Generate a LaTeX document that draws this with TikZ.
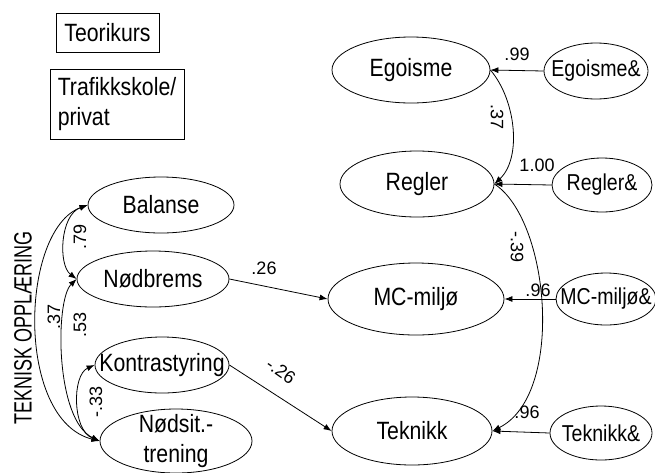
\documentclass[tikz,border=0pt]{standalone}
\usepackage{fontspec}
\setmainfont{Liberation Sans}[FakeStretch=0.85]
\newfontfamily\narrowfont{Liberation Sans}[FakeStretch=0.72]
\newfontfamily\coeffont{Liberation Sans}
\usetikzlibrary{shapes.geometric,arrows.meta}

\begin{document}
\begin{tikzpicture}[x=1pt,y=-1pt,line width=0.8pt,
  font=\fontsize{25}{30}\selectfont,
  latent/.style={ellipse,draw,inner sep=0pt,label={[align=center]center:{#1}}},
  resid/.style={ellipse,draw,inner sep=0pt,label={[font=\fontsize{23}{26}\selectfont]center:{#1}}},
  box/.style={draw,inner sep=0pt,align=left},
  coef/.style={font=\coeffont\fontsize{18}{20}\selectfont,inner sep=0pt},
  path/.style={-{Latex[length=8pt,width=6pt]}},
  corr/.style={{Latex[length=8pt,width=6pt]}-{Latex[length=8pt,width=6pt]}}]
\useasboundingbox (0,0) rectangle (655,472);

% course boxes
\node[box,minimum width=103,minimum height=39] (teori) at (107.5,32.5) {Teorikurs};
\node[box,minimum width=134,minimum height=70] (trafikk) at (117,104) {Trafikkskole/\\privat};

% technical training
\node[latent=Balanse,minimum width=146,minimum height=56] (balanse) at (161,205) {};
\node[latent=Nødbrems,minimum width=152,minimum height=56] (nodbrems) at (153,279) {};
\node[latent=Kontrastyring,minimum width=134,minimum height=56] (kontrast) at (162,365) {};
\node[latent={Nødsit.-\\trening},minimum width=152,minimum height=64] (nodsit) at (176,441) {};
\node[rotate=90,font=\narrowfont\fontsize{25}{30}\selectfont] (teknisk) at (23,328) {TEKNISK OPPLÆRING};

% outcomes
\node[latent=Egoisme,minimum width=158,minimum height=66] (egoisme) at (411,70) {};
\node[latent=Regler,minimum width=154,minimum height=66] (regler) at (417,184) {};
\node[latent=MC-miljø,minimum width=176,minimum height=72] (mcmiljo) at (416,299) {};
\node[latent=Teknikk,minimum width=160,minimum height=68] (teknikk) at (412,431) {};

% error terms
\node[resid=Egoisme\&,minimum width=104,minimum height=56] (egoismeE) at (596,71) {};
\node[resid=Regler\&,minimum width=100,minimum height=54] (reglerE) at (602,185) {};
\node[resid=MC-miljø\&,minimum width=100,minimum height=52] (mcmiljoE) at (606,299) {};
\node[resid=Teknikk\&,minimum width=102,minimum height=54] (teknikkE) at (601,433) {};

\draw[path] (egoismeE.west) -- (egoisme.east);
\draw[path] (reglerE.west) -- (regler.east);
\draw[path] (mcmiljoE.west) -- (mcmiljo.east);
\draw[path] (teknikkE.west) -- (teknikk.east);
\node[coef] (c1) at (517,54) {.99};
\node[coef] (c2) at (537,165) {1.00};
\node[coef] (c3) at (538,290) {.96};
\node[coef] (c4) at (527,412) {.96};

\draw[path] (egoisme.east) .. controls (516,100) and (522,158) .. (regler.east);
\draw[path] (regler.east) .. controls (550,220) and (565,395) .. (teknikk.east);
\node[coef,rotate=-90] (c5) at (497,117) {.37};
\node[coef,rotate=-90] (c6) at (517,247) {-.39};

\draw[path] (nodbrems.east) -- (mcmiljo.west);
\draw[path] (kontrast.east) -- (teknikk.west);
\node[coef] (c7) at (264,268) {.26};
\node[coef,rotate=-35] (c8) at (281,371) {-.26};

% correlations
\draw[corr] (balanse.west) .. controls (60,215) and (58,265) .. (nodbrems.west);
\draw[corr] (balanse.west) .. controls (20,230) and (15,420) .. (nodsit.west);
\draw[corr] (nodbrems.west) .. controls (55,300) and (55,420) .. (nodsit.west);
\draw[corr] (kontrast.west) .. controls (72,375) and (72,430) .. (nodsit.west);
\node[coef,rotate=90] (c9) at (80,237) {.79};
\node[coef,rotate=90] (c10) at (54,317) {.37};
\node[coef,rotate=90] (c11) at (80,325) {.53};
\node[coef,rotate=90] (c12) at (96,402) {-.33};
\end{tikzpicture}
\end{document}
